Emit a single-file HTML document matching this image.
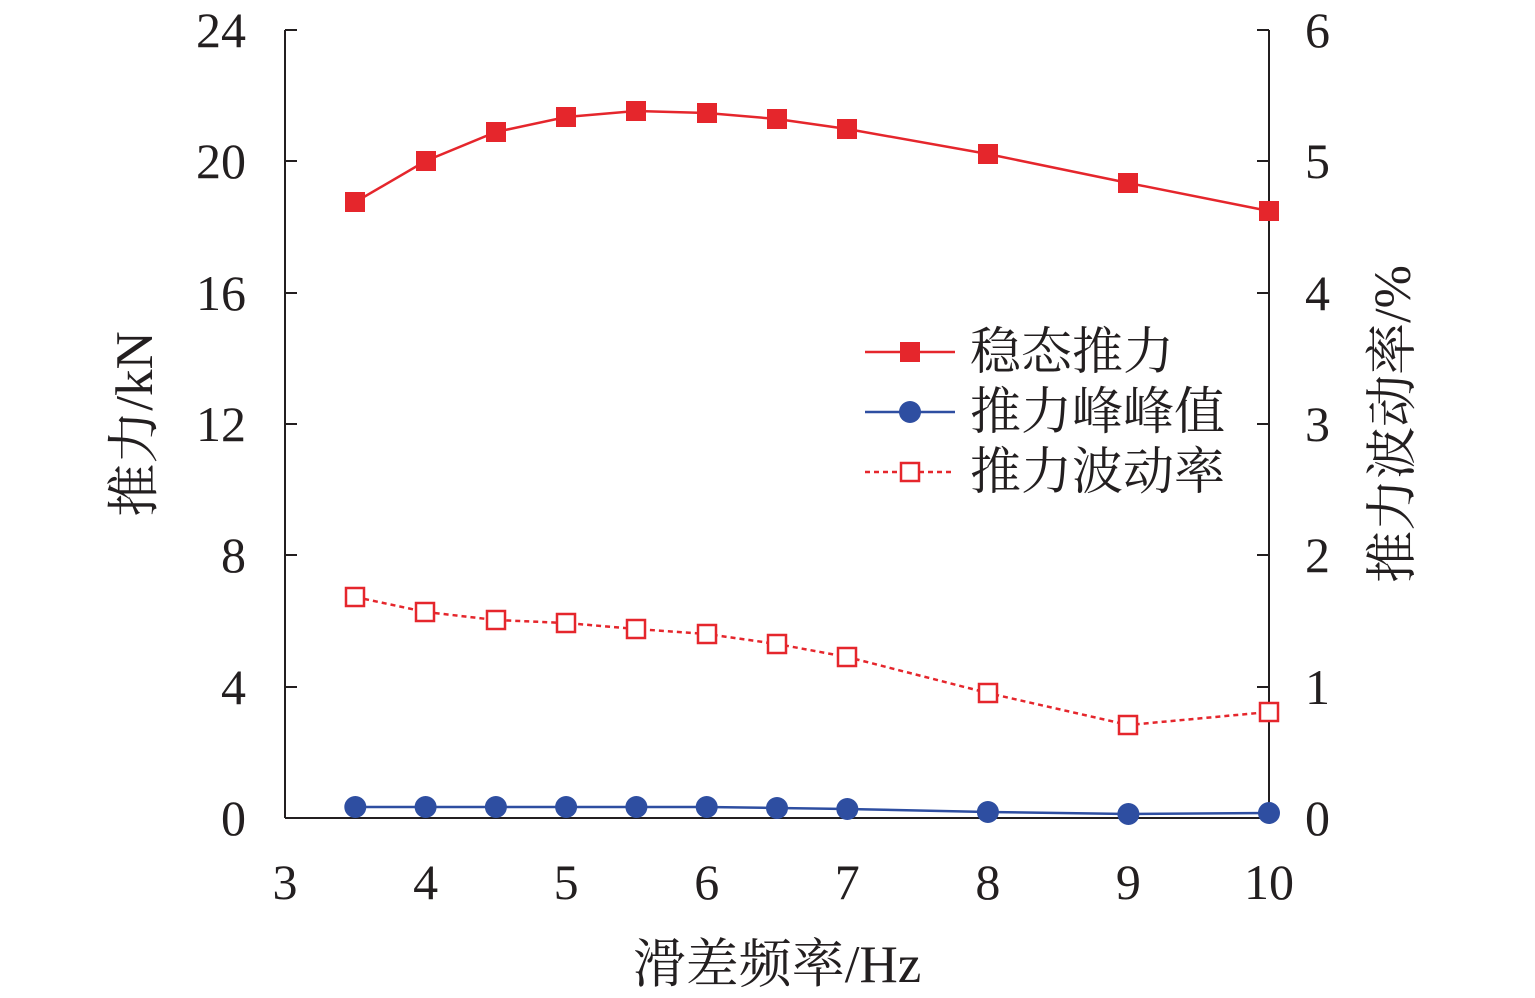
<!DOCTYPE html>
<html><head><meta charset="utf-8"><style>
html,body{margin:0;padding:0;background:#fff;}
svg{display:block;}
text{font-family:"Liberation Serif","Noto Serif CJK SC",serif;fill:#231f20;}
</style></head><body>
<svg width="1535" height="998" viewBox="0 0 1535 998">
<g stroke="#231f20" stroke-width="2" fill="none">
<line x1="285" y1="30" x2="285" y2="818"/>
<line x1="1269" y1="30" x2="1269" y2="818"/>
<line x1="285" y1="818" x2="1269" y2="818"/>
<path d="M285 30h12M285 161h12M285 293h12M285 424h12M285 555h12M285 687h12"/>
<path d="M1269 30h-12M1269 161h-12M1269 293h-12M1269 424h-12M1269 555h-12M1269 687h-12"/>
<path d="M425.6 818v-12M566.1 818v-12M706.7 818v-12M847.3 818v-12M987.9 818v-12M1128.4 818v-12"/>
</g>
<g font-size="50" text-anchor="end">
<text x="246" y="47">24</text><text x="246" y="178">20</text><text x="246" y="310">16</text>
<text x="246" y="441">12</text><text x="246" y="572">8</text><text x="246" y="704">4</text><text x="246" y="835">0</text>
</g>
<g font-size="50" text-anchor="start">
<text x="1305" y="47">6</text><text x="1305" y="178">5</text><text x="1305" y="310">4</text>
<text x="1305" y="441">3</text><text x="1305" y="572">2</text><text x="1305" y="704">1</text><text x="1305" y="835">0</text>
</g>
<g font-size="50" text-anchor="middle">
<text x="285" y="899">3</text><text x="425.6" y="899">4</text><text x="566.1" y="899">5</text>
<text x="706.7" y="899">6</text><text x="847.3" y="899">7</text><text x="987.9" y="899">8</text>
<text x="1128.4" y="899">9</text><text x="1269" y="899">10</text>
</g>
<text x="777" y="982" font-size="53" text-anchor="middle">滑差频率/Hz</text>
<text transform="translate(152,424) rotate(-90)" font-size="53" text-anchor="middle">推力/kN</text>
<text transform="translate(1410,424) rotate(-90)" font-size="52" text-anchor="middle">推力波动率/%</text>

<polyline fill="none" stroke="#e5262c" stroke-width="2.5" points="355.3,202 425.6,161 495.9,132 566.1,117 636.4,111 706.7,113 777,119 847.3,129 987.9,154 1128.4,183 1269,211"/>
<g fill="#e5262c">
<rect x="345" y="192" width="20" height="20"/><rect x="416" y="151" width="20" height="20"/><rect x="486" y="122" width="20" height="20"/>
<rect x="556" y="107" width="20" height="20"/><rect x="626" y="101" width="20" height="20"/><rect x="697" y="103" width="20" height="20"/>
<rect x="767" y="109" width="20" height="20"/><rect x="837" y="119" width="20" height="20"/><rect x="978" y="144" width="20" height="20"/>
<rect x="1118" y="173" width="20" height="20"/><rect x="1259" y="201" width="20" height="20"/>
</g>
<polyline fill="none" stroke="#2e4ea1" stroke-width="2.5" points="355.3,807 425.6,807 495.9,807 566.1,807 636.4,807 706.7,807 777,808 847.3,809 987.9,812 1128.4,814 1269,813"/>
<g fill="#2e4ea1">
<circle cx="355.3" cy="807" r="11"/><circle cx="425.6" cy="807" r="11"/><circle cx="495.9" cy="807" r="11"/>
<circle cx="566.1" cy="807" r="11"/><circle cx="636.4" cy="807" r="11"/><circle cx="706.7" cy="807" r="11"/>
<circle cx="777" cy="808" r="11"/><circle cx="847.3" cy="809" r="11"/><circle cx="987.9" cy="812" r="11"/>
<circle cx="1128.4" cy="814" r="11"/><circle cx="1269" cy="813" r="11"/>
</g>
<polyline fill="none" stroke="#e5262c" stroke-width="2.5" stroke-dasharray="5,4" points="355.3,597 425.6,612 495.9,620 566.1,623 636.4,629 706.7,634 777,644 847.3,657 987.9,693 1128.4,725 1269,712"/>
<g fill="#fff" stroke="#e5262c" stroke-width="2.5">
<rect x="346" y="588" width="18" height="18"/><rect x="416" y="603" width="18" height="18"/><rect x="487" y="611" width="18" height="18"/>
<rect x="557" y="614" width="18" height="18"/><rect x="627" y="620" width="18" height="18"/><rect x="698" y="625" width="18" height="18"/>
<rect x="768" y="635" width="18" height="18"/><rect x="838" y="648" width="18" height="18"/><rect x="979" y="684" width="18" height="18"/>
<rect x="1119" y="716" width="18" height="18"/><rect x="1260" y="703" width="18" height="18"/>
</g>
<line x1="865" y1="352" x2="955" y2="352" stroke="#e5262c" stroke-width="2.5"/>
<rect x="900" y="342" width="20" height="20" fill="#e5262c"/>
<text x="970" y="369" font-size="51">稳态推力</text>
<line x1="865" y1="412" x2="955" y2="412" stroke="#2e4ea1" stroke-width="2.5"/>
<circle cx="910" cy="412" r="11" fill="#2e4ea1"/>
<text x="970" y="429" font-size="51">推力峰峰值</text>
<line x1="865" y1="472" x2="955" y2="472" stroke="#e5262c" stroke-width="2.5" stroke-dasharray="5,4"/>
<rect x="901" y="463" width="18" height="18" fill="#fff" stroke="#e5262c" stroke-width="2.5"/>
<text x="970" y="489" font-size="51">推力波动率</text>
</svg>
</body></html>
